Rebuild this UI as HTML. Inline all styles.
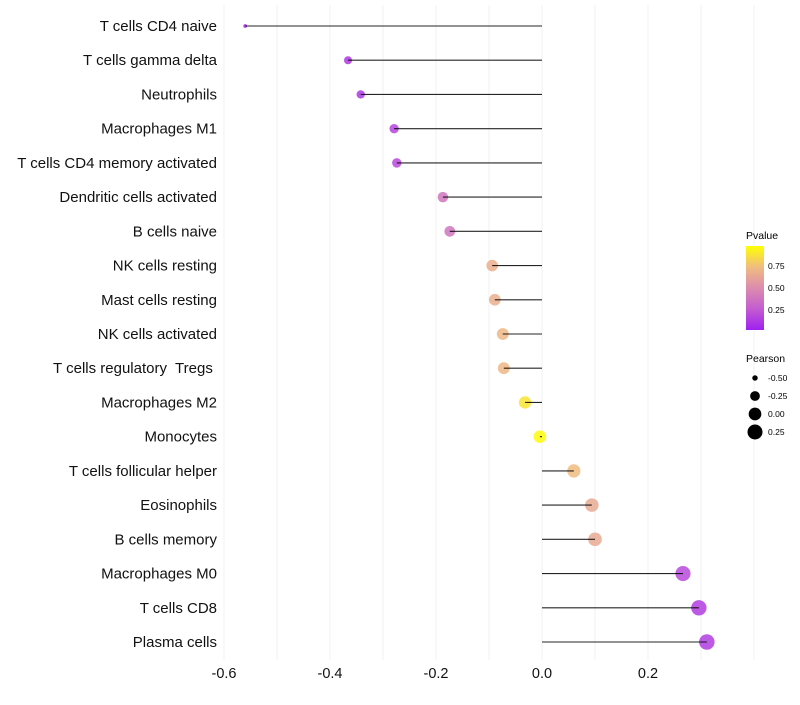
<!DOCTYPE html>
<html><head><meta charset="utf-8"><style>
body{margin:0;background:#fff;}
svg text{font-family:"Liberation Sans",sans-serif;white-space:pre;}
</style></head><body>
<svg id="chart" width="800" height="700">
<defs>
<linearGradient id="pg" x1="0" y1="1" x2="0" y2="0">
<stop offset="0" stop-color="#a020f0"/><stop offset="0.25" stop-color="#c35cd0"/>
<stop offset="0.5" stop-color="#dc8cae"/><stop offset="0.75" stop-color="#f0bc80"/>
<stop offset="1" stop-color="#ffff00"/></linearGradient>
</defs>
<g id="grid"></g><g id="marks"></g><g id="labels"></g>
<g id="legend">
<text x="746" y="239" font-size="10.5">Pvalue</text>
<rect x="746" y="246" width="18" height="84" fill="url(#pg)"/>
<text x="768" y="269" font-size="8.5">0.75</text>
<text x="768" y="291" font-size="8.5">0.50</text>
<text x="768" y="313" font-size="8.5">0.25</text>
<text x="746" y="362" font-size="10.5">Pearson</text>
</g>
</svg>
<script>
const categories=["T cells CD4 naive","T cells gamma delta","Neutrophils","Macrophages M1","T cells CD4 memory activated","Dendritic cells activated","B cells naive","NK cells resting","Mast cells resting","NK cells activated","T cells regulatory  Tregs ","Macrophages M2","Monocytes","T cells follicular helper","Eosinophils","B cells memory","Macrophages M0","T cells CD8","Plasma cells"];
const pearson=[-0.560,-0.366,-0.342,-0.279,-0.274,-0.187,-0.174,-0.094,-0.089,-0.074,-0.072,-0.032,-0.004,0.060,0.094,0.100,0.266,0.296,0.311];
const pvalue=[0.05,0.10,0.10,0.15,0.17,0.38,0.38,0.68,0.68,0.72,0.72,0.90,0.98,0.75,0.65,0.65,0.17,0.12,0.12];
const xTicks=[-0.6,-0.4,-0.2,0.0,0.2];
const sizeLegend=[-0.50,-0.25,0.00,0.25];
const NS="http://www.w3.org/2000/svg";
const x=v=>542+v*530;
const y=i=>26+i*(616/18);
const rad=v=>Math.sqrt(Math.max(1.5,40+65*v));
const stops=[[0,[160,32,240]],[0.25,[195,92,208]],[0.5,[220,140,174]],[0.75,[240,188,128]],[1,[255,255,0]]];
function col(p){for(let k=1;k<stops.length;k++){if(p<=stops[k][0]){const a=stops[k-1],b=stops[k],t=(p-a[0])/(b[0]-a[0]);return "rgb("+a[1].map((c,j)=>Math.round(c+(b[1][j]-c)*t)).join(",")+")";}}return "rgb(255,255,0)";}
function mk(tag,at,parent){const e=document.createElementNS(NS,tag);for(const k in at)e.setAttribute(k,at[k]);document.getElementById(parent).appendChild(e);return e;}
for(let v=-0.6;v<=0.41;v+=0.1){const g=mk("line",{x1:x(v),x2:x(v),y1:5,y2:660,stroke:"#f2f2f2","stroke-width":1},"grid");

}
xTicks.forEach(t=>{const e=mk("text",{x:x(t),y:678,"font-size":14.5,"text-anchor":"middle",fill:"#111"},"labels");e.textContent=t.toFixed(1);

});
categories.forEach((c,i)=>{
const t=mk("text",{x:217,y:y(i)+5,"font-size":15,"text-anchor":"end",fill:"#111"},"labels");t.textContent=c;


const p=mk("circle",{cx:x(pearson[i]),cy:y(i),r:rad(pearson[i]),fill:col(pvalue[i]),"fill-opacity":0.85},"marks");


const l=mk("line",{x1:x(0),x2:x(pearson[i]),y1:y(i),y2:y(i),stroke:"#000","stroke-width":1.1,"stroke-opacity":0.85},"marks");


});
sizeLegend.forEach((v,k)=>{const cy=378+k*18;
const c=mk("circle",{cx:755,cy:cy,r:rad(v),fill:"#000"},"legend");


const t=mk("text",{x:768,y:cy+3,"font-size":8.5},"legend");t.textContent=v.toFixed(2);

});
</script>
</body></html>
